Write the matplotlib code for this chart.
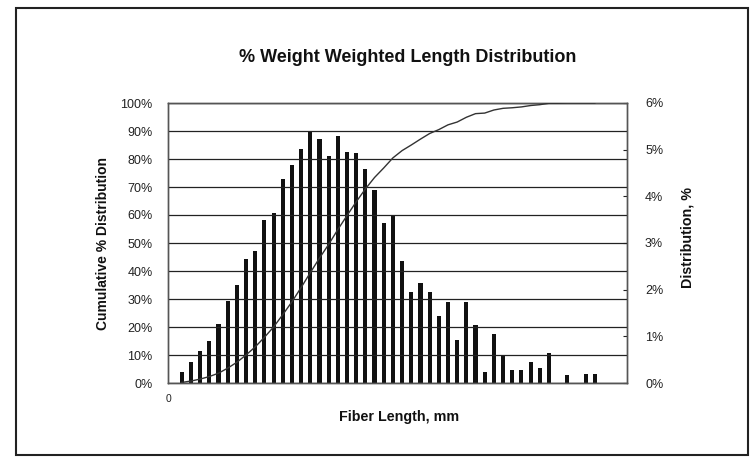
import matplotlib
matplotlib.use("Agg")
import matplotlib.pyplot as plt
from matplotlib.patches import Rectangle
from matplotlib.ticker import FuncFormatter, MultipleLocator

plt.rcParams['font.family'] = ['Liberation Sans', 'DejaVu Sans']

# category index (fiber length bins), 0..49
categories = list(range(50))

# distribution, % (right axis) per bin
distribution = [0.0,
                0.23, 0.44, 0.69, 0.90, 1.27, 1.76, 2.09, 2.66, 2.82, 3.49,
                3.65, 4.38, 4.68, 5.01, 5.38, 5.23, 4.86, 5.30, 4.95, 4.93,
                4.58, 4.13, 3.43, 3.57, 2.61, 1.94, 2.14, 1.96, 1.44, 1.73,
                0.92, 1.74, 1.24, 0.23, 1.06, 0.61, 0.27, 0.27, 0.45, 0.32,
                0.65, 0.0, 0.18, 0.0, 0.20, 0.20,
                0.0, 0.0, 0.0]

# cumulative % distribution (left axis), bins 1..46
cum_x = list(range(1, 47))
cumulative = [0.2, 0.7, 1.4, 2.3, 3.5, 5.3, 7.4, 10.0, 12.9, 16.3,
              20.0, 24.4, 29.0, 34.1, 39.4, 44.6, 49.5, 54.8, 59.8, 64.7,
              69.3, 73.4, 76.8, 80.4, 83.0, 85.0, 87.1, 89.1, 90.5, 92.2,
              93.2, 94.9, 96.2, 96.4, 97.5, 98.1, 98.3, 98.6, 99.1, 99.4,
              99.9, 99.9, 100.0, 100.0, 100.0, 100.0]

W, H = 751, 459
fig = plt.figure(figsize=(W / 100, H / 100), dpi=100)
fig.patch.set_facecolor('white')

x0, x1, yt, yb = 168, 627, 103, 383
ax = fig.add_axes([x0 / W, 1 - yb / H, (x1 - x0) / W, (yb - yt) / H])
ax2 = ax.twinx()

# bars on right axis
ax2.bar(categories, distribution, width=0.45, color='#111111', zorder=2)
ax2.set_ylim(0, 6)
ax2.yaxis.set_major_locator(MultipleLocator(1))
ax2.yaxis.set_major_formatter(FuncFormatter(lambda v, p: f"{v:.0f}%"))
ax2.tick_params(axis='y', direction='in', length=3, width=0.8, pad=13,
                labelsize=9, colors='#222222')

# line on left axis, drawn above bars
ax.set_zorder(ax2.get_zorder() + 1)
ax.patch.set_visible(False)
ax.plot(cum_x, cumulative, color='#333333', lw=1.0, zorder=3)
ax.set_ylim(0, 100)
ax.set_xlim(-0.5, 49.5)
ax.yaxis.set_major_locator(MultipleLocator(10))
ax.yaxis.set_major_formatter(FuncFormatter(lambda v, p: f"{v:.0f}%"))
ax.yaxis.grid(True, color='#222222', lw=0.9)
ax.set_axisbelow(True)
ax.tick_params(axis='y', length=0, pad=11, labelsize=9, colors='#222222')
ax.set_xticks([-0.5])
ax.set_xticklabels(['0'])
ax.tick_params(axis='x', length=0, pad=8, labelsize=7.5, colors='#222222')
ax2.set_xlim(-0.5, 49.5)

for a in (ax, ax2):
    for s in a.spines.values():
        s.set_color('#555555')
        s.set_linewidth(1.0)

fig.text(408 / W, 1 - 57 / H, '% Weight Weighted Length Distribution',
         ha='center', va='center', fontsize=13, fontweight='bold', color='#111111')
fig.text(103 / W, 1 - 243 / H, 'Cumulative % Distribution', rotation=90,
         ha='center', va='center', fontsize=10, fontweight='bold', color='#111111')
fig.text(687 / W, 1 - 238 / H, 'Distribution, %', rotation=90,
         ha='center', va='center', fontsize=10.3, fontweight='bold', color='#111111')
fig.text(399 / W, 1 - 417 / H, 'Fiber Length, mm',
         ha='center', va='center', fontsize=10.3, fontweight='bold', color='#111111')

# outer chart frame
fig.add_artist(Rectangle((16 / W, 1 - 455 / H), (748 - 16) / W, (455 - 8) / H,
                         transform=fig.transFigure, fill=False,
                         edgecolor='#222222', lw=1.5))

fig.savefig('out.png', dpi=100, facecolor='white')
